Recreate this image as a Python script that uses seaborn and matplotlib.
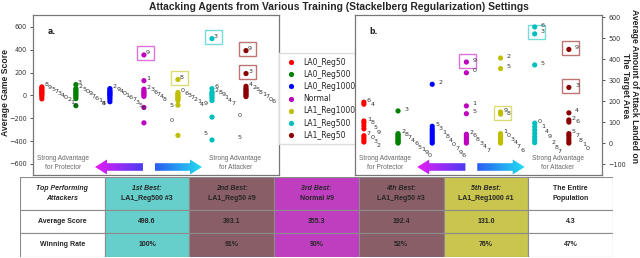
import numpy as np
import pandas as pd
import matplotlib
matplotlib.use("Agg")
import matplotlib.pyplot as plt
import seaborn as sns
from matplotlib.patches import Rectangle, Polygon
from matplotlib.colors import LinearSegmentedColormap

# groups (x order) and their colours
groups = ["LA0_Reg50", "LA0_Reg500", "LA0_Reg1000", "Normal", "LA1_Reg1000", "LA1_Reg500", "LA1_Reg50"]
colors = ["r", "g", "b", "m", "y", "c", "darkred"]
agents = list(range(10))

# (a) average game score, agent 0..9 per group
score_LA0_Reg50 = [15, -10, 5, 35, 25, 55, -30, 45, 75, 65]
score_LA0_Reg500 = [36, -12, 60, 95, -28, 48, 0, 12, -90, 24]
score_LA0_Reg1000 = [25, 15, 60, -20, 35, -35, 5, -5, -55, 45]
score_Normal = [-240, 130, 55, 40, 5, -105, 28, 16, -8, 355]
score_LA1_Reg1000 = [25, -30, -20, 0, -45, -350, 12, -10, 140, -85]
score_LA1_Reg500 = [-190, -8, 30, 498, -25, -390, 60, -45, 18, 6]
score_LA1_Reg50 = [2, 26, 62, 192, 80, 50, -10, 14, 38, 393]

# (b) average amount of attack landed on the target area
attack_LA0_Reg50 = [25, 105, 5, 15, 185, 82, 195, 35, 95, 68]
attack_LA0_Reg500 = [0, 10, 45, 153, 27, 15, 21, 33, 40, 5]
attack_LA0_Reg1000 = [28, 58, 280, 68, 38, 80, 0, 18, 48, 8]
attack_Normal = [335, 177, 42, 16, 8, 140, 34, 0, 25, 386]
attack_LA1_Reg1000 = [36, 45, 405, 27, 18, 355, 0, 9, 138, 148]
attack_LA1_Reg500 = [95, 78, 30, 520, 62, 372, 553, 2, 15, 46]
attack_LA1_Reg50 = [0, 10, 110, 265, 144, 45, 100, 35, 22, 446]

# boxed (top performing) agents
highlight_a = [("Normal", 9), ("LA1_Reg1000", 8), ("LA1_Reg500", 3), ("LA1_Reg50", 9), ("LA1_Reg50", 3)]
highlight_b = [("Normal", 9), ("LA1_Reg1000", 8), ("LA1_Reg500", 3), ("LA1_Reg50", 9), ("LA1_Reg50", 3)]

# table
row_names = ["Average Score", "Winning Rate"]
rank_names = ["1st Best:", "2nd Best:", "3rd Best:", "4th Best:", "5th Best:"]
rank_agents = ["LA1_Reg500 #3", "LA1_Reg50 #9", "Normal #9", "LA1_Reg50 #3", "LA1_Reg1000 #1"]
avg_scores = ["498.6", "393.1", "355.3", "192.4", "131.0", "4.3"]
win_rates = ["100%", "91%", "90%", "52%", "76%", "47%"]
cell_colors = ["#66CFCB", "#8A5E66", "#BF3EC0", "#8A5E66", "#C9C54E", "white"]

score_cols = [score_LA0_Reg50, score_LA0_Reg500, score_LA0_Reg1000, score_Normal,
              score_LA1_Reg1000, score_LA1_Reg500, score_LA1_Reg50]
attack_cols = [attack_LA0_Reg50, attack_LA0_Reg500, attack_LA0_Reg1000, attack_Normal,
               attack_LA1_Reg1000, attack_LA1_Reg500, attack_LA1_Reg50]


def long_df(cols):
    rows = []
    for gi, (g, vals) in enumerate(zip(groups, cols)):
        for a, v in zip(agents, vals):
            rows.append({"group": g, "x": gi, "agent": a, "value": v})
    return pd.DataFrame(rows)


df_a = long_df(score_cols)
df_b = long_df(attack_cols)

sns.set_style("white")
plt.rcParams["font.family"] = ["DejaVu Sans"]

W, H = 640, 258
fig = plt.figure(figsize=(6.4, 2.58), dpi=100)


def px_axes(l, t, r, b):
    return fig.add_axes([l / W, 1 - b / H, (r - l) / W, (b - t) / H])


ax_a = px_axes(33, 15, 279, 175)
ax_b = px_axes(355, 15, 602, 175)
ax_t = px_axes(20, 177, 613, 257)

XLIM = (-0.26, 6.97)


def label_points(ax, sub, gap, step, side_off):
    vals = sub["value"].to_numpy()
    ids = sub["agent"].to_numpy()
    x = sub["x"].iloc[0]
    order = np.argsort(-vals, kind="stable")
    clusters, cur = [], [order[0]]
    for p, q in zip(order[:-1], order[1:]):
        if vals[p] - vals[q] < gap:
            cur.append(q)
        else:
            clusters.append(cur)
            cur = [q]
    clusters.append(cur)
    main = max(clusters, key=len)
    for cl in clusters:
        if len(cl) == 1 and vals[cl[0]] < vals[main[-1]]:
            k = cl[0]
            ax.annotate(str(ids[k]), (x, vals[k]), xytext=(18.5, 1.5), textcoords="offset points",
                        fontsize=4.6, color="#333", va="center", ha="left", zorder=5)
        elif len(cl) == 1:
            k = cl[0]
            ax.annotate(str(ids[k]), (x, vals[k]), xytext=(side_off, 1.4), textcoords="offset points",
                        fontsize=4.6, color="#333", va="center", ha="left", zorder=5)
        else:
            for i, k in enumerate(cl):
                ax.annotate(str(ids[k]), (x, vals[k]), xytext=(2.2 + i * step[0], 1.4 - i * step[1]),
                            textcoords="offset points", fontsize=4.6, color="#333",
                            va="center", ha="left", zorder=5)


def grad_arrow(ax, x0, x1, yc, left, c0, c1, box):
    l, t, r, b = box
    aw, ah = r - l, b - t
    hl, hh, bh = 12, 7.5, 3.8
    if left:
        pts = [(x0, yc), (x0 + hl, yc - hh), (x0 + hl, yc - bh), (x1, yc - bh),
               (x1, yc + bh), (x0 + hl, yc + bh), (x0 + hl, yc + hh)]
    else:
        pts = [(x1, yc), (x1 - hl, yc - hh), (x1 - hl, yc - bh), (x0, yc - bh),
               (x0, yc + bh), (x1 - hl, yc + bh), (x1 - hl, yc + hh)]
    fpts = [((px - l) / aw, (b - py) / ah) for px, py in pts]
    poly = Polygon(fpts, closed=True, transform=ax.transAxes, fc="none", ec="none")
    ax.add_patch(poly)
    cmap = LinearSegmentedColormap.from_list("g", [c0, c1])
    grad = np.linspace(0, 1, 256).reshape(1, -1)
    ext = [(x0 - l) / aw, (x1 - l) / aw, (b - yc - hh) / ah, (b - yc + hh) / ah]
    im = ax.imshow(grad, extent=ext, transform=ax.transAxes, aspect="auto", cmap=cmap, zorder=4)
    im.set_clip_path(poly)


def draw_panel(ax, df, ylim, yticks, gap, step, side_off, highlights, tag, box):
    sns.scatterplot(data=df, x="x", y="value", hue="group", hue_order=groups, palette=colors,
                    s=14, linewidth=0, ax=ax, legend=(tag == "a."), zorder=3)
    for g in groups:
        label_points(ax, df[df["group"] == g], gap, step, side_off)
    l, t, r, b = box
    ux = (XLIM[1] - XLIM[0]) / (r - l)
    uy = (ylim[1] - ylim[0]) / (b - t)
    for g, a in highlights:
        row = df[(df["group"] == g) & (df["agent"] == a)].iloc[0]
        col = colors[groups.index(g)]
        ax.add_patch(Rectangle((row["x"] - 7 * ux, row["value"] - 5.5 * uy), 17 * ux, 14 * uy,
                               fill=False, ec=col, alpha=0.55, lw=1.0, zorder=2))
    ax.text(0.06, 0.9, tag, transform=ax.transAxes, fontsize=5.5, fontweight="bold", va="center")
    # advantage arrows
    ax.text(0.122, 0.075, "Strong Advantage\nfor Protector", transform=ax.transAxes, fontsize=4.7,
            color="#666", ha="center", va="center", linespacing=1.3, family="Liberation Sans")
    ax.text(0.822, 0.075, "Strong Advantage\nfor Attacker", transform=ax.transAxes, fontsize=4.7,
            color="#666", ha="center", va="center", linespacing=1.3, family="Liberation Sans")
    w = r - l
    grad_arrow(ax, l + 0.252 * w, l + 0.447 * w, 167, True, "#E81CF6", "#4A3CF2", box)
    grad_arrow(ax, l + 0.495 * w, l + 0.687 * w, 167, False, "#2A5CF0", "#22E0F2", box)
    ax.set_xlim(*XLIM)
    ax.set_ylim(*ylim)
    ax.set_yticks(yticks)
    ax.set_xticks([])
    ax.set_xlabel("")
    ax.set_ylabel("")
    ax.tick_params(axis="y", labelsize=4.7, length=2.5, width=0.6, pad=2, left=True, colors="#333")
    for sp in ax.spines.values():
        sp.set_color("#777")
        sp.set_linewidth(0.9)


draw_panel(ax_a, df_a, (-697, 705), [-600, -400, -200, 0, 200, 400, 600], 25, (2.3, 0.7), 1.5,
           highlight_a, "a.", (33, 15, 279, 175))
draw_panel(ax_b, df_b, (-152, 610), [-100, 0, 100, 200, 300, 400, 500, 600], 18, (2.4, 1.3), 4.5,
           highlight_b, "b.", (355, 15, 602, 175))
ax_b.yaxis.tick_right()
ax_b.tick_params(axis="y", right=True, left=False)

sns.move_legend(ax_a, "upper left", bbox_to_anchor=(1.0, 0.7625), title=None, fontsize=5.5,
                frameon=True, fancybox=False, framealpha=1, edgecolor="#ddd",
                borderaxespad=0, handletextpad=0.6, labelspacing=0.42, borderpad=0.6)

fig.text(6 / W, 1 - 92 / H, "Average Game Score", rotation=90, ha="center", va="center",
         fontsize=6.2, fontweight="bold", family="Liberation Sans")
fig.text(630 / W, 1 - 86 / H, "Average Amount of Attack Landed on\nThe Target Area", rotation=270,
         ha="center", va="center", multialignment="center", fontsize=6.2, fontweight="bold",
         linespacing=1.1, family="Liberation Sans")
fig.text(339 / W, 1 - 7 / H, "Attacking Agents from Various Training (Stackelberg Regularization) Settings",
         ha="center", va="center", fontsize=7.4, fontweight="bold", family="Liberation Sans")

# table
tw, th = 593, 80
ax_t.set_xlim(0, tw)
ax_t.set_ylim(th, 0)
ax_t.axis("off")
cw = tw / 7
row_edges = [0, 33, 56, 80]
col_fc = ["white"] + cell_colors
for ci in range(7):
    for ri in range(3):
        ax_t.add_patch(Rectangle((ci * cw, row_edges[ri]), cw, row_edges[ri + 1] - row_edges[ri],
                                 fc=col_fc[ci], ec="#8c8c8c", lw=0.8))
tfont = dict(family="Liberation Sans", fontweight="bold", ha="center", va="center", fontsize=5)
ax_t.text(cw / 2, 16.5, "Top Performing\nAttackers", style="italic", linespacing=1.5, **tfont)
for i, (rk, ag) in enumerate(zip(rank_names, rank_agents)):
    xc = (i + 1.5) * cw
    ax_t.text(xc, 12, rk, style="italic", **tfont)
    ax_t.text(xc, 21, ag, **tfont)
ax_t.text(6.5 * cw, 16.5, "The Entire\nPopulation", linespacing=1.5, **tfont)
ax_t.text(cw / 2, 44.5, row_names[0], **tfont)
ax_t.text(cw / 2, 68, row_names[1], **tfont)
for i, (s, wr) in enumerate(zip(avg_scores, win_rates)):
    ax_t.text((i + 1.5) * cw, 44.5, s, **tfont)
    ax_t.text((i + 1.5) * cw, 68, wr, **tfont)

fig.savefig("out.png", dpi=100)
